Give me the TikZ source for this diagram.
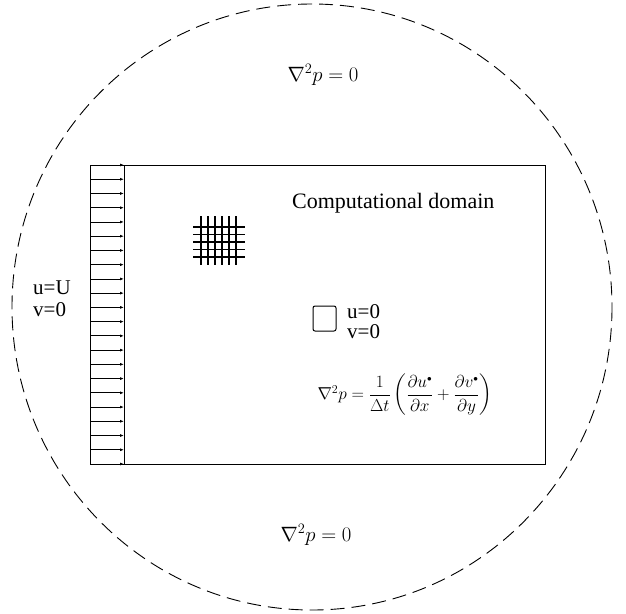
\documentclass[tikz,border=0pt]{standalone}
\usepackage{amsmath}
\usepackage{fontspec}
\setmainfont{Liberation Serif}
\usetikzlibrary{arrows.meta}
\tikzset{
  edge/.style={line width=1pt, black},
  inflow/.style={line width=0.8pt, -{Latex[length=4pt,width=3pt]}},
  gridline/.style={line width=1.2pt},
  far/.style={line width=0.9pt, dash pattern=on 14pt off 7pt},
  lbl/.style={inner sep=0pt, font=\fontsize{20}{23}\selectfont},
  lblw/.style={inner sep=0pt, anchor=west, font=\fontsize{21}{24}\selectfont},
}
\begin{document}
\begin{tikzpicture}[x=1pt,y=-1pt]
\useasboundingbox (0,0) rectangle (626,613);
% far-field boundary
\draw[far] (312,307) ellipse [x radius=300, y radius=303];
% computational domain
\coordinate (tl) at (90,165);
\coordinate (br) at (545,464);
\draw[edge] (tl) rectangle (br);
\draw[edge] (124,165) -- (124,464);
% inflow arrows
\foreach \i in {0,...,21}{
  \coordinate (s\i) at (90,{165+\i*299/21});
  \coordinate (e\i) at (124,{165+\i*299/21});
  \draw[inflow] (s\i) -- (e\i);
}
% mesh
\foreach \x in {0,...,5}{
  \draw[gridline] ({201+\x*7},216) -- ({201+\x*7},265);
}
\foreach \y in {0,...,4}{
  \draw[gridline] (193,{227+\y*7.5}) -- (245,{227+\y*7.5});
}
% body
\draw[edge, rounded corners=2pt] (313,306) rectangle (336,331);
% labels
\node[lblw, font=\fontsize{22}{26}\selectfont] (cd) at (292,203) {Computational domain};
\node[lblw] (u0) at (347,312) {u=0};
\node[lblw] (v0) at (347,332) {v=0};
\node[lblw] (uU) at (33,288) {u=U};
\node[lblw] (vU) at (33,310) {v=0};
\node[lbl] (top) at (323,75) {$\nabla^{2}p=0$};
\node[lbl] (bot) at (316,535) {$\nabla^{2}p=0$};
\node[lbl, font=\fontsize{18}{21}\selectfont] (eq) at (405,395) {$\nabla^{2}p=\dfrac{1}{\Delta t}\left(\dfrac{\partial u^{\scriptscriptstyle\bullet}}{\partial x}+\dfrac{\partial v^{\scriptscriptstyle\bullet}}{\partial y}\right)$};
\end{tikzpicture}
\end{document}
